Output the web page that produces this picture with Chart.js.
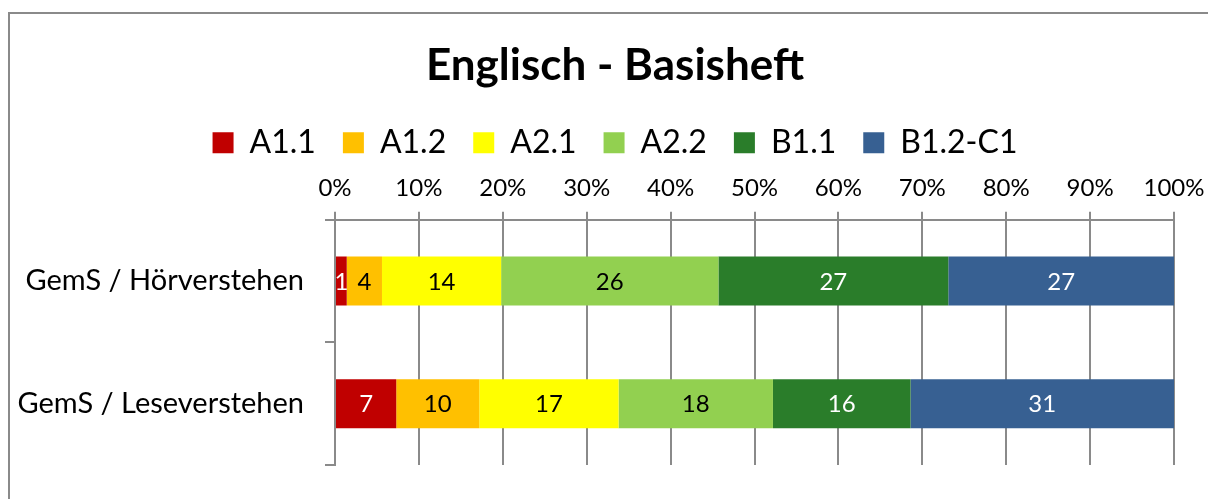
<!DOCTYPE html>
<html>
<head>
<meta charset="utf-8">
<script src="https://cdn.jsdelivr.net/npm/chart.js@4.4.1/dist/chart.umd.min.js"></script>
<style>
  html, body { margin: 0; padding: 0; background: #fff; overflow: hidden; }
  #wrap { position: relative; width: 1230px; height: 499px; }
</style>
</head>
<body>
<div id="wrap"><canvas id="chart" width="1230" height="499"></canvas></div>
<script>
// categories and levels
const categories = ['GemS / Hörverstehen', 'GemS / Leseverstehen'];
const levels = ['A1.1', 'A1.2', 'A2.1', 'A2.2', 'B1.1', 'B1.2-C1'];
const xTicks = [0, 10, 20, 30, 40, 50, 60, 70, 80, 90, 100];

// percent shares per level (row 1 = Hörverstehen, row 2 = Leseverstehen)
const a11 = [1.4, 7.3];
const a12 = [4.2, 9.9];
const a21 = [14.2, 16.6];
const a22 = [25.9, 18.4];
const b11 = [27.4, 16.4];
const b12c1 = [26.9, 31.4];

const colors = ['#C00000', '#FFC000', '#FFFF00', '#92D050', '#2A7D2A', '#376092'];
const labelColors = ['#fff', '#000', '#000', '#000', '#fff', '#fff'];

const seriesValues = [a11, a12, a21, a22, b11, b12c1];

Chart.defaults.font.family = 'Lato';
Chart.defaults.color = '#000';

// draws the rounded number in the middle of every bar segment
const barLabels = {
  id: 'barLabels',
  afterDatasetsDraw(chart) {
    const ctx = chart.ctx;
    ctx.save();
    ctx.font = '24px Lato';
    ctx.textAlign = 'center';
    ctx.textBaseline = 'middle';
    chart.data.datasets.forEach((ds, i) => {
      const meta = chart.getDatasetMeta(i);
      meta.data.forEach((bar, j) => {
        const p = bar.getCenterPoint();
        ctx.fillStyle = labelColors[i];
        ctx.fillText(Math.round(ds.data[j]), p.x, p.y + 1);
      });
    });
    ctx.restore();
  }
};

// outer frame of the chart object (right side runs off the page)
const frame = {
  id: 'frame',
  beforeDraw(chart) {
    const ctx = chart.ctx;
    ctx.save();
    ctx.strokeStyle = '#8a8a8a';
    ctx.lineWidth = 2;
    ctx.strokeRect(9, 13, 1400, 700);
    ctx.restore();
  }
};

new Chart(document.getElementById('chart'), {
  type: 'bar',
  data: {
    labels: categories,
    datasets: levels.map((name, i) => ({
      label: name,
      data: seriesValues[i],
      backgroundColor: colors[i],
      borderWidth: 0,
      barPercentage: 0.4,
      categoryPercentage: 1
    }))
  },
  options: {
    indexAxis: 'y',
    responsive: false,
    animation: false,
    layout: { padding: { left: 0, right: 0, top: 0, bottom: 34 } },
    plugins: {
      title: {
        display: true,
        text: 'Englisch - Basisheft',
        color: '#000',
        font: { size: 44, weight: 'bold' },
        padding: { top: 39, bottom: 8 }
      },
      legend: {
        position: 'top',
        labels: {
          boxWidth: 21,
          boxHeight: 21,
          padding: 27,
          color: '#000',
          font: { size: 32 }
        }
      },
      tooltip: { enabled: false }
    },
    scales: {
      x: {
        position: 'top',
        stacked: true,
        min: 0,
        max: 100,
        afterBuildTicks(scale) {
          scale.ticks = xTicks.map(v => ({ value: v }));
        },
        afterFit(scale) { scale.height = 51; },
        ticks: {
          padding: 12,
          color: '#000',
          font: { size: 24, lineHeight: 1 },
          callback: v => v + '%'
        },
        grid: { color: '#8a8a8a', lineWidth: 2, tickLength: 8 },
        border: { color: '#8a8a8a', width: 2 }
      },
      y: {
        stacked: true,
        afterFit(scale) {
          scale.width = 335;
          scale.paddingTop = 0;
          scale.paddingBottom = 0;
        },
        ticks: { padding: 21, color: '#000', font: { size: 29 } },
        grid: { drawOnChartArea: false, color: '#8a8a8a', lineWidth: 2, tickLength: 10, offset: true },
        border: { color: '#8a8a8a', width: 2 }
      },
      // empty right-hand strip so the plot ends at the 100% line
      spacer: {
        type: 'category',
        position: 'right',
        labels: categories,
        afterFit(scale) { scale.width = 56; },
        ticks: { display: false },
        grid: { display: false },
        border: { display: false }
      }
    }
  },
  plugins: [frame, barLabels]
});
</script>
</body>
</html>
